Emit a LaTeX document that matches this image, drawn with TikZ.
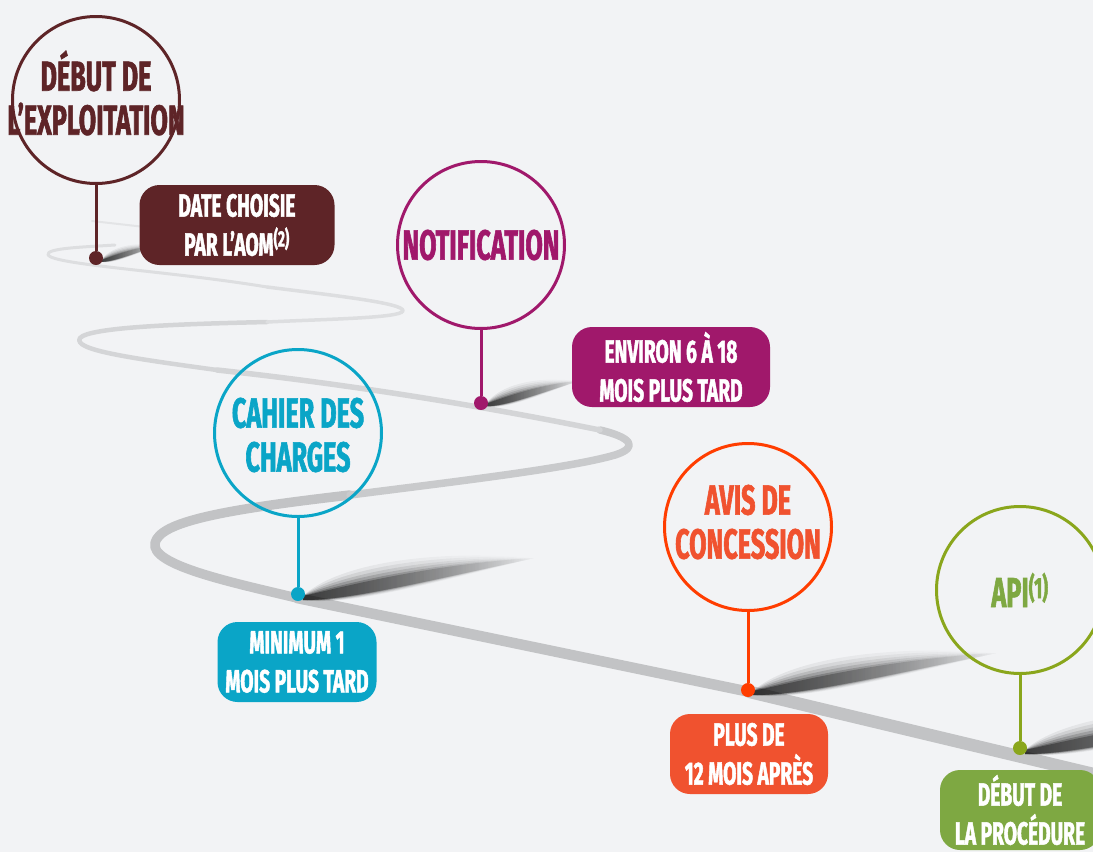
\documentclass[tikz,border=0pt]{standalone}
\usepackage{fontspec}
\usetikzlibrary{fadings}
\newfontfamily\milefont[FakeStretch=0.6, FakeBold=1.4]{Fira Sans}

\definecolor{bg}{HTML}{F2F3F5}
\definecolor{exploitcol}{HTML}{5E2427}
\definecolor{notifcol}{HTML}{A0186B}
\definecolor{cahiercol}{HTML}{0AA5C7}
\definecolor{aviscol}{HTML}{FF3D00}
\definecolor{avisfill}{HTML}{F0522F}
\definecolor{apicol}{HTML}{8AA61C}
\definecolor{apifill}{HTML}{7EA842}
\definecolor{roadA}{HTML}{C2C3C5}
\definecolor{roadB}{HTML}{C9CACC}
\definecolor{roadC}{HTML}{D4D5D7}
\definecolor{roadD}{HTML}{DDDEE0}

\tikzset{
  milestone/.style={circle, draw=#1, line width=3pt, minimum size=167pt, inner sep=0pt},
  milelabel/.style={text=#1, align=center, inner sep=0pt,
    font=\milefont\bfseries\fontsize{42}{44}\selectfont},
  stopdot/.style={circle, fill=#1, minimum size=14pt, inner sep=0pt},
  stemline/.style={draw=#1, line width=3pt},
  delaybox/.style={rounded corners=20pt, fill=#1, text=white, align=center,
    minimum height=80pt, inner sep=0pt,
    font=\milefont\bfseries\fontsize{32}{39}\selectfont},
  road/.style={line cap=round, line join=round},
  pics/pinshadow/.style={code={
    \foreach \w/\op in {34/0.07, 27/0.1, 20/0.14, 14/0.2, 8/0.28, 4/0.38}{
      \fill[black, opacity=\op, path fading=east]
        (0,2) .. controls (50,2+0.2*\w) and (150,-22+0.1*\w) .. (245,-40)
        .. controls (130,-32-0.5*\w) and (35,-6-0.8*\w) .. (0,-2) -- cycle;
    }
  }},
}

\begin{document}
\begin{tikzpicture}[x=1pt,y=-1pt]
  \useasboundingbox (0,0) rectangle (1093,852);
  \fill[bg] (0,0) rectangle (1093,852);
  \begin{scope}
  \clip (0,0) rectangle (1093,852);

  % the winding road, thinner towards the top
  \draw[road, roadA, line width=12.5pt] (1110,778) -- (750,692);
  \draw[road, roadA, line width=10.5pt] (750,692) -- (297,598);
  \draw[road, roadA, line width=9.5pt] (297,598) .. controls (230,582) and (150,565) .. (155,543)
    .. controls (160,522) and (220,510) .. (350,495);
  \draw[road, roadB, line width=7.5pt] (350,495) .. controls (460,481) and (570,468) .. (615,455)
    .. controls (640,447) and (630,437) .. (600,430);
  \draw[road, roadC, line width=5.5pt] (600,430) .. controls (540,418) and (400,390) .. (217,370);
  \draw[road, roadC, line width=4.5pt] (217,370) .. controls (130,358) and (72,350) .. (80,338)
    .. controls (90,327) and (180,324) .. (267,322);
  \draw[road, roadD, line width=3.5pt] (267,322) .. controls (330,319) and (400,318) .. (403,311)
    .. controls (405,303) and (330,295) .. (267,287);
  \draw[road, roadD, line width=3pt] (267,287) .. controls (170,271) and (55,265) .. (48,255)
    .. controls (45,248) and (85,247) .. (115,245);
  \draw[road, roadD!70!bg, line width=2pt] (92,221) -- (145,227);

  % shadows of the pins
  \pic[xscale=0.24, yscale=0.4] at (101,261) {pinshadow};
  \pic[xscale=0.38, yscale=0.6] at (486,405) {pinshadow};
  \pic[xscale=0.95] at (303,598) {pinshadow};
  \pic at (753,693) {pinshadow};
  \pic at (1025,752) {pinshadow};

  % milestones
  \node[milestone=exploitcol,
    label={[milelabel=exploitcol, yshift=7pt]center:{DÉBUT DE\\L’EXPLOITATION}}] (exploit) at (96,100) {};
  \node[stopdot=exploitcol] (exploit dot) at (96,258) {};
  \draw[stemline=exploitcol] (exploit) -- (exploit dot);
  \node[delaybox=exploitcol, minimum width=195pt] (exploit box) at (237,225)
    {DATE CHOISIE\\PAR L’AOM\textsuperscript{(2)}};

  \node[milestone=notifcol,
    label={[milelabel=notifcol]center:{NOTIFICATION}}] (notif) at (481,245) {};
  \node[stopdot=notifcol] (notif dot) at (481,403) {};
  \draw[stemline=notifcol] (notif) -- (notif dot);
  \node[delaybox=notifcol, minimum width=198pt] (notif box) at (671,367)
    {ENVIRON 6 À 18\\MOIS PLUS TARD};

  \node[milestone=cahiercol,
    label={[milelabel=cahiercol, yshift=-2pt]center:{CAHIER DES\\CHARGES}}] (cahier) at (298,433) {};
  \node[stopdot=cahiercol] (cahier dot) at (298,594) {};
  \draw[stemline=cahiercol] (cahier) -- (cahier dot);
  \node[delaybox=cahiercol, minimum width=159pt] (cahier box) at (297,662)
    {MINIMUM 1\\MOIS PLUS TARD};

  \node[milestone=aviscol,
    label={[milelabel=avisfill, yshift=5pt]center:{AVIS DE\\CONCESSION}}] (avis) at (748,527) {};
  \node[stopdot=aviscol] (avis dot) at (748,690) {};
  \draw[stemline=aviscol] (avis) -- (avis dot);
  \node[delaybox=avisfill, minimum width=158pt] (avis box) at (749,754)
    {PLUS DE\\12 MOIS APRÈS};

  \node[milestone=apicol,
    label={[milelabel=apifill]center:{API\textsuperscript{(1)}}}] (api) at (1020,590) {};
  \node[stopdot=apicol] (api dot) at (1020,748) {};
  \draw[stemline=apicol] (api) -- (api dot);
  \node[delaybox=apifill, minimum width=160pt] (api box) at (1020,810)
    {DÉBUT DE\\LA PROCÉDURE};
  \end{scope}
\end{tikzpicture}
\end{document}
